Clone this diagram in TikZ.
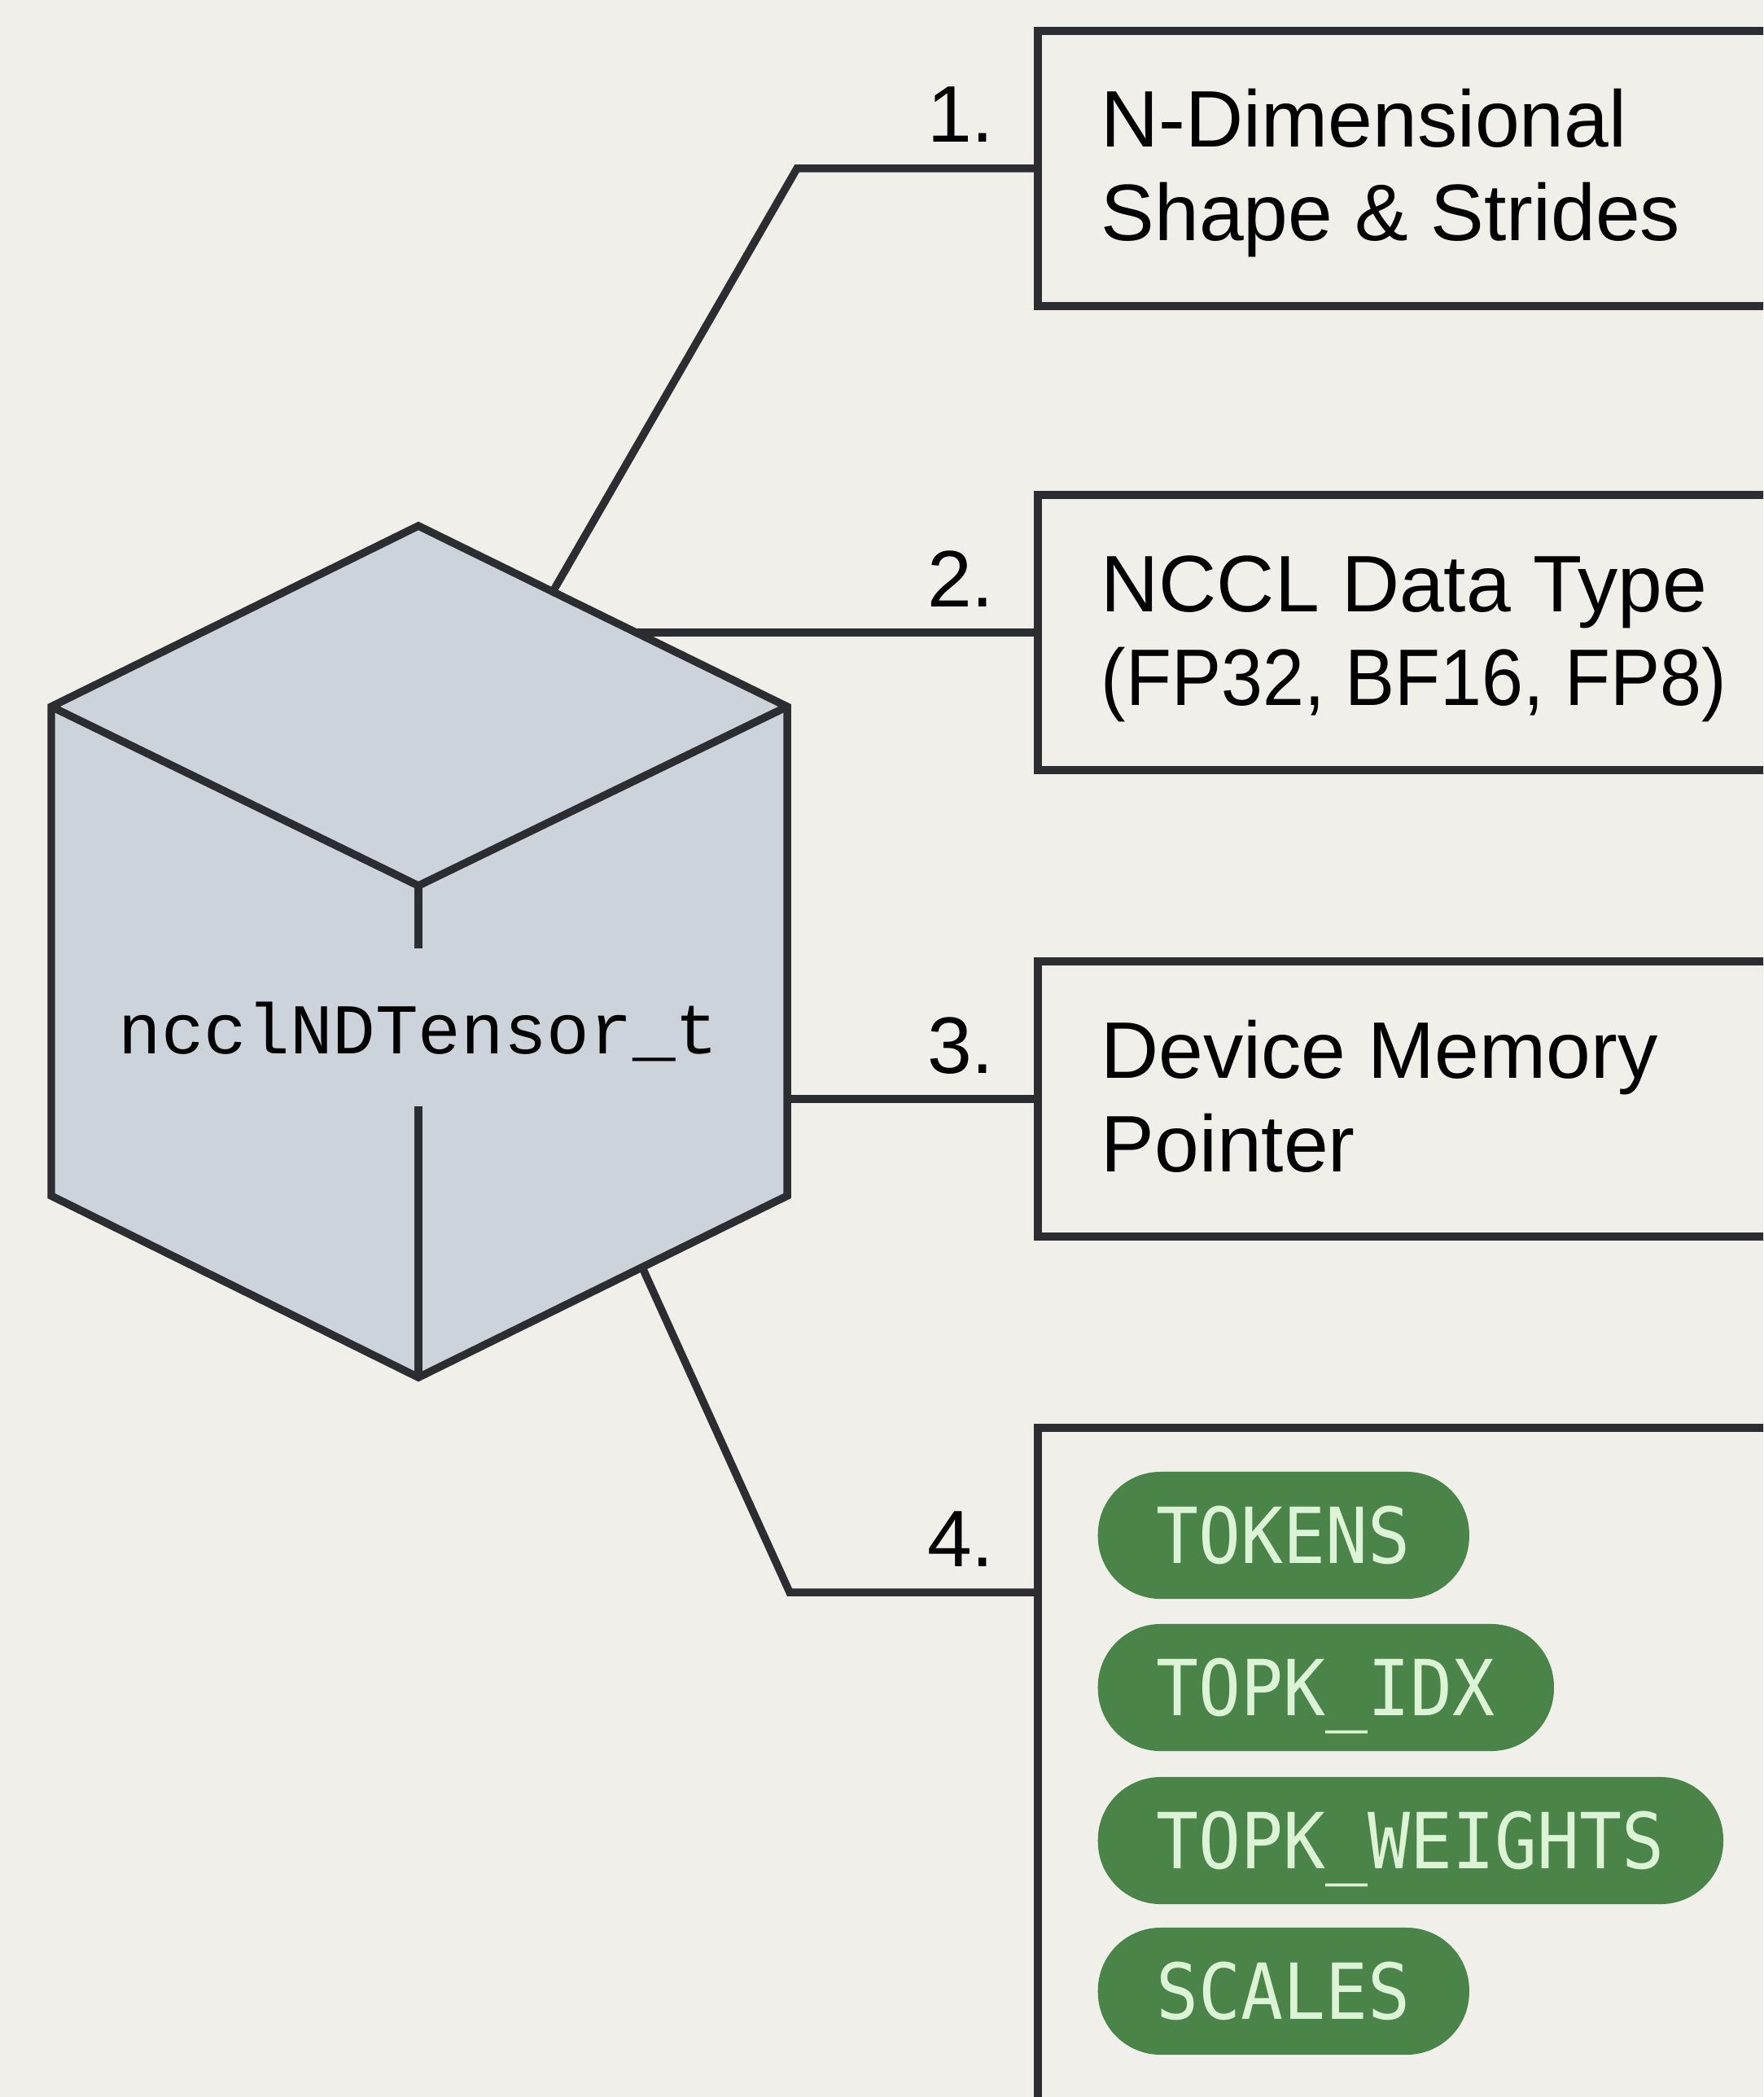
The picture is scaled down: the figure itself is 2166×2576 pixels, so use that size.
\documentclass[tikz,border=0pt]{standalone}
\usepackage{fontspec}
\usepackage{graphicx}
\setmainfont{Liberation Sans}
\newfontfamily\cubefont{Liberation Mono}
\newfontfamily\pillfont{DejaVu Sans Mono}
\definecolor{bg}{HTML}{F1EFEA}
\definecolor{ink}{HTML}{2B2D30}
\definecolor{cubefill}{HTML}{CDD3DB}
\definecolor{pillgreen}{HTML}{4A8448}
\definecolor{pilltext}{HTML}{DDF3D6}
\begin{document}
\begin{tikzpicture}[x=0.01cm, y=-0.01cm,
  conn/.style={draw=ink, line width=2.7pt, line join=miter},
  fieldbox/.style={draw=ink, line width=2.7pt, fill=bg, rectangle, anchor=north west,
    minimum width=10cm, minimum height=3.38cm, inner sep=0pt, outer sep=0pt},
  boxtext/.style={anchor=west, inner sep=0pt, align=left, text=black,
    font=\fontsize{28}{32.7}\selectfont},
  numlab/.style={anchor=base east, inner sep=0pt, text=black,
    font=\fontsize{28}{32.7}\selectfont},
  pill/.style={fill=pillgreen, text=pilltext, rounded corners=0.77cm,
    minimum height=1.56cm, inner xsep=0.72cm, inner ysep=0pt,
    text height=0.69cm, text depth=0pt, anchor=west,
    font=\pillfont\fontsize{27}{30}\selectfont},
  cubelabel/.style={inner sep=0pt, text=black, text height=0.58cm, text depth=0pt,
    font=\cubefont\fontsize{24.95}{28}\selectfont}
]
\useasboundingbox (0,0) rectangle (2166,2576);
\fill[bg] (0,0) rectangle (2166,2576);
\clip (0,0) rectangle (2166,2576);

% field boxes
\node[fieldbox] (b1) at (1275,38) {};
\node[fieldbox] (b2) at (1275,608) {};
\node[fieldbox] (b3) at (1275,1181) {};
\node[fieldbox, minimum height=9cm] (b4) at (1275,1754) {};

% cube vertices
\coordinate (top) at (514,646);
\coordinate (ul) at (63,868);
\coordinate (ur) at (967,868);
\coordinate (mid) at (514,1088);
\coordinate (ll) at (63,1469);
\coordinate (lr) at (967,1469);
\coordinate (bot) at (514,1692);
\coordinate (gapA) at (514,1165);
\coordinate (gapB) at (514,1359);

% connector points
\coordinate (c1) at (679,727);
\coordinate (k1) at (979,207);
\coordinate (c2) at (781,777);
\coordinate (c3) at (967,1350);
\coordinate (c4) at (789,1557);
\coordinate (k4) at (970,1956);

% connectors
\draw[conn] (c1) -- (k1) -- (k1 -| b1.west);
\draw[conn] (c2) -- (c2 -| b2.west);
\draw[conn] (c3) -- (c3 -| b3.west);
\draw[conn] (c4) -- (k4) -- (k4 -| b4.west);

% cube
\filldraw[fill=cubefill, draw=ink, line width=2.7pt, line join=miter]
  (top) -- (ur) -- (lr) -- (bot) -- (ll) -- (ul) -- cycle;
\draw[conn] (ul) -- (mid) -- (ur);
\draw[conn] (mid) -- (gapA);
\draw[conn] (gapB) -- (bot);
\node[cubelabel] (tensor) at (514,1265) {ncclNDTensor\_t};

% number labels
\node[numlab] (n1) at (1222,175) {1.};
\node[numlab] (n2) at (1222,745) {2.};
\node[numlab] (n3) at (1222,1318) {3.};
\node[numlab] (n4) at (1222,1924) {4.};

% box texts
\node[boxtext] (t1) at (1352,215.5) {\strut N-Dimensional\\Shape \& Strides\strut};
\node[boxtext] (t2) at (1352,785.5) {\strut NCCL Data Type\\\scalebox{0.93}[1]{(FP32, BF16, FP8)}\strut};
\node[boxtext] (t3) at (1352,1358.5) {\strut Device Memory\\Pointer\strut};

% pills
\node[pill] (p1) at (1348,1886) {\scalebox{0.91}[1]{TOKENS}};
\node[pill] (p2) at (1348,2073) {\scalebox{0.91}[1]{TOPK\_IDX}};
\node[pill] (p3) at (1348,2261) {\scalebox{0.91}[1]{TOPK\_WEIGHTS}};
\node[pill] (p4) at (1348,2446) {\scalebox{0.91}[1]{SCALES}};
\end{tikzpicture}
\end{document}
